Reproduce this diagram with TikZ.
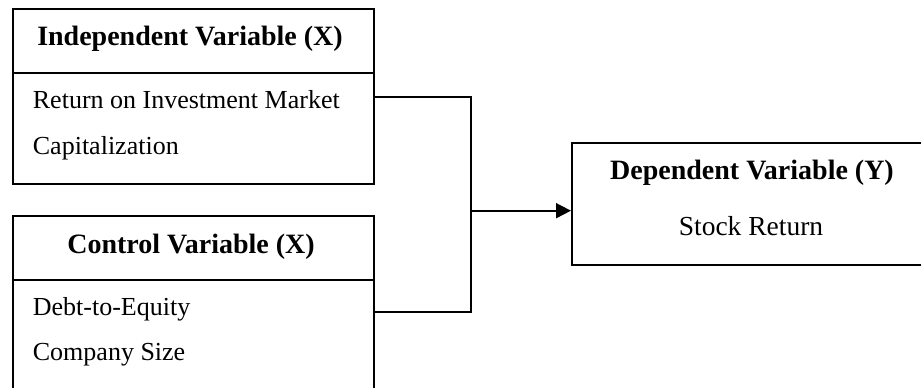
\documentclass[tikz,border=0pt]{standalone}
\usepackage{fontspec}
\setmainfont{Liberation Serif}
\usetikzlibrary{arrows.meta}
\begin{document}
\begin{tikzpicture}[x=1pt, y=-1pt, line width=1.8pt,
  box/.style={draw, rectangle, inner sep=0pt, anchor=north west, line width=1.8pt},
  headtext/.style={font=\fontsize{28}{32}\selectfont\bfseries, anchor=base, inner sep=0pt},
  bodytext/.style={font=\fontsize{26}{30}\selectfont, anchor=base west, inner sep=0pt},
  resulttext/.style={font=\fontsize{27.5}{32}\selectfont, anchor=base, inner sep=0pt},
  link/.style={line width=1.8pt},
  arrowlink/.style={line width=1.8pt, -{Triangle[length=15pt, width=15pt]}}
]
\useasboundingbox (0,0) rectangle (921,388);
\clip (0,0) rectangle (921,388);

% Independent variable block
\node[box, minimum width=361pt, minimum height=64pt] (ivhead) at (12,8) {};
\node[box, minimum width=361pt, minimum height=111pt] (ivbody) at (12,72) {};
\node[headtext] (ivtitle) at (190,45) {Independent Variable (X)};
\node[bodytext] (roi) at (32,108) {Return on Investment Market};
\node[bodytext] (cap) at (32,154) {Capitalization};

% Control variable block
\node[box, minimum width=361pt, minimum height=64pt] (cvhead) at (12,215) {};
\node[box, minimum width=361pt, minimum height=120pt] (cvbody) at (12,279) {};
\node[headtext] (cvtitle) at (191,253) {Control Variable (X)};
\node[bodytext] (der) at (32,315) {Debt-to-Equity};
\node[bodytext] (size) at (32,360) {Company Size};

% Dependent variable block
\node[box, minimum width=362pt, minimum height=122pt] (dv) at (571,142) {};
\node[headtext] (dvtitle) at (752,179) {Dependent Variable (Y)};
\node[resulttext] (ret) at (751,235) {Stock Return};

% Connectors
\coordinate (join) at (471,210.7);
\draw[link] (ivbody.east |- 0,97.3) -| (join);
\draw[link] (cvbody.east |- 0,311.7) -| (join);
\draw[arrowlink] (join) -- (dv.west |- join);
\end{tikzpicture}
\end{document}
